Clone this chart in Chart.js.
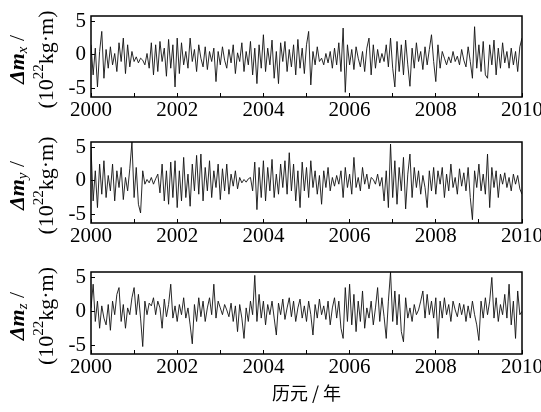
<!DOCTYPE html>
<html>
<head>
<meta charset="utf-8">
<script src="https://cdn.jsdelivr.net/npm/chart.js@4.4.0/dist/chart.umd.min.js"></script>
<style>
body { margin: 0; background: #fff; }
#wrap { position: relative; width: 541px; height: 412px; }
canvas { position: absolute; left: 0; }
</style>
</head>
<body>
<div id="wrap">
  <canvas id="c1" width="541" height="125" style="top:0px"></canvas>
  <canvas id="c2" width="541" height="125" style="top:126px"></canvas>
  <canvas id="c3" width="541" height="156" style="top:256px"></canvas>
</div>
<script>
// sampling: 20 values per year, 2000.00 .. 2010.00
const START_YEAR = 2000;
const SAMPLES_PER_YEAR = 20;
const yearTicks = [2000, 2001, 2002, 2003, 2004, 2005, 2006, 2007, 2008, 2009, 2010];
const yTicks = [-5, 0, 5];
const xTitle = '历元 / 年';

// delta m_x (10^22 kg.m)
const dmx = [
  1.5, -3.0, 1.0, -4.8, 0.5, 3.5, -3.5, 0.8, -2.0, 1.2, -1.5, 0.2, -2.5, 1.8, -1.0, 2.5, -2.8, 1.5, -1.8, 0.5,
  -1.0, -0.3, -1.2, -0.5, -0.8, -1.5, 0.2, -2.0, 1.8, -3.0, 1.5, -2.5, 2.0, -1.0, 1.0, -3.2, 2.3, -2.0, 1.5, -4.8,
  2.5, -2.8, 1.8, -1.5, 0.5, -2.0, 2.5, -1.0, 0.8, -2.5, 1.5, -0.5, -1.8, 1.2, -2.2, 0.5, -1.0, 1.0, -4.0, 0.5,
  -1.5, 1.2, -0.8, -2.0, 0.8, -1.2, 1.5, -2.8, 0.3, -1.0, 1.8, -2.5, 0.5, -1.5, 2.0, -3.0, 1.0, -4.3, 1.5, -2.0,
  3.0, -2.5, 1.0, -1.5, 2.2, -3.5, 0.5, -4.3, 1.8, -1.0, 2.0, -2.5, 0.8, -1.8, 1.5, -3.0, 2.3, -2.0, 1.0, -2.8,
  1.5, 3.5, -4.5, 0.5, -1.5, 1.2, -1.0, -0.5, -1.5, 0.2, -1.2, 0.5, -2.0, 1.0, -1.5, 1.8, -2.5, 4.0, -5.6, 1.5,
  -1.5, 0.8, -2.2, 1.2, -0.5, -1.8, 0.5, -2.5, 1.0, 2.5, -3.0, 1.5, -2.0, 0.8, -1.2, 0.2, -1.0, 1.5, -1.8, 2.5,
  -2.0, -4.8, 2.0, -2.5, 1.5, -3.0, 2.2, -1.5, -4.7, 1.0, -2.0, 1.8, -1.0, 0.5, -2.2, 1.2, -1.5, 0.8, 3.0, -1.0,
  -4.0, 1.5, -2.0, 0.5, -0.5, -1.5, -0.3, -1.2, 0.5, -1.0, -0.2, -1.5, 0.8, -0.8, -1.8, 1.2, -1.0, -3.5, 4.2, -2.0,
  1.5, -2.5, 2.0, -3.0, -3.5, 1.5, -1.5, 2.2, -3.0, 1.0, -2.0, 1.8, -1.2, 0.5, -2.0, 1.0, -1.5, 0.5, -2.5, 1.2,
  2.5
];

// delta m_y
const dmy = [
  5.0, -3.0, 1.5, -4.0, 2.5, -2.0, 3.0, -2.5, 0.8, -1.5, 2.5, -3.0, 1.5, -1.0, 2.0, -2.8, 0.5, -1.5, 1.8, 5.8,
  -2.5, 2.0, -3.5, -4.8, 1.5, -0.5, 0.2, -0.3, 0.5, -0.5, 0.3, 1.0, -1.8, 2.5, -3.0, 1.5, -3.5, 2.8, -2.5, 3.0,
  -4.0, 1.5, -3.0, 3.5, -2.5, 1.0, -3.8, 2.5, -1.5, 3.8, -2.0, 4.0, -3.0, 2.0, -1.5, 3.0, -2.5, 1.5, -1.0, 2.5,
  -2.8, 1.8, -1.5, 2.5, -2.0, 1.0, -0.8, 1.5, -1.2, 0.5, -0.3, 0.2, -0.2, 0.3, 0.5, -1.5, 2.8, -4.3, 2.0, -2.5,
  3.0, -3.0, 2.0, -1.5, 3.2, -2.5, 1.0, -2.0, 2.5, -1.0, 3.0, -2.0, 4.2, -1.5, 2.5, -3.0, 1.5, -4.0, 2.8, -1.5,
  2.0, -2.5, 3.0, -1.0, 1.5, -2.0, 0.8, -3.5, 1.5, -1.0, 2.0, -1.5, 0.5, -0.8, 0.8, -0.5, 1.5, -2.5, 2.0, -1.0,
  1.0, -2.0, 3.5, -1.0, 0.5, -1.5, 2.0, -0.5, 1.0, -1.2, 0.5, 0.2, -0.5, 1.0, -0.8, 0.5, -3.0, 1.5, -4.0, 5.5,
  -2.5, 3.0, -3.5, 2.0, -1.5, 3.5, -4.2, 1.0, 4.0, -2.5, 2.0, -1.0, 1.5, -2.0, 0.8, -1.0, -4.0, 1.5, -1.5, 2.0,
  -2.0, 1.5, -0.5, 2.0, -2.5, 1.0, -1.5, 2.5, -1.0, 0.5, -2.0, 1.8, -0.8, 1.2, -1.5, 2.0, -2.5, -5.8, 1.5, -1.0,
  2.5, -1.5, 1.0, -2.0, 4.0, -4.0, 2.0, -1.0, 1.5, -2.5, 1.0, -0.5, 1.2, -1.0, 0.5, -1.5, 1.0, -0.5, 0.8, -1.2,
  -2.0
];

// delta m_z
const dmz = [
  0.5, 4.0, -1.5, 1.5, -2.5, 0.8, -1.0, -2.0, 1.0, -2.8, 1.5, -0.5, 2.5, 3.5, -1.5, 1.0, -2.5, 0.5, -0.5, 2.0,
  3.5, -0.5, 2.5, -1.0, -5.2, 1.5, -0.5, 1.2, 0.8, 2.0, -0.5, 1.5, 0.5, -2.5, 1.8, -0.8, 1.0, 4.0, -1.0, 0.8,
  -1.5, 1.0, -0.5, 2.0, -1.0, 0.5, -2.0, -4.8, 1.0, -1.5, 2.0, -0.8, 1.5, -1.5, 0.5, 2.0, -0.5, 4.0, -1.0, 1.5,
  0.5, -0.5, 1.0, 0.2, -0.8, 1.2, -1.5, 0.8, -3.0, 1.0, -1.0, -4.0, 0.5, -1.5, 1.5, -0.5, 5.3, -1.5, 2.5, -1.0,
  1.5, -2.0, 1.0, -0.5, 1.5, -1.0, -3.5, 1.2, -0.5, 1.8, -1.2, 0.5, 2.0, -0.8, 1.5, -1.5, 0.5, 1.8, -1.0, 0.8,
  -1.5, 1.5, -0.5, -3.5, 1.0, -1.0, 1.8, -0.5, 0.8, -1.2, 1.5, -2.0, 0.5, 2.0, -1.0, 1.5, -2.5, -4.0, 3.5, -1.5,
  4.0, -2.0, 2.5, -3.0, 1.5, -1.5, 3.0, -2.5, 0.5, -1.0, 1.5, -2.0, 0.5, 3.5, -1.5, 2.0, -0.8, -4.0, 1.5, 5.8,
  -1.5, 3.0, -2.0, 2.5, -3.0, -4.5, 2.0, -1.0, 0.5, -1.5, 1.0, -0.5, 0.2, 1.5, 3.0, -1.0, 2.5, -0.5, 1.5, -1.0,
  2.0, -4.0, 1.5, -1.0, 2.0, -0.5, 1.0, -1.5, 1.5, 0.2, -0.8, 1.2, -0.5, 1.0, -1.5, 0.8, -1.0, 1.5, -0.5, -2.0,
  -4.3, 1.5, -1.0, 2.0, -0.5, 1.5, 5.0, -1.0, 2.0, -1.5, 1.0, -0.5, 2.5, -1.0, 4.0, -2.0, 1.5, -4.0, 3.0, -0.5,
  0.0
];

const SERIF = '"Liberation Serif", "DejaVu Serif", serif';

// frame round the plot area
const framePlugin = {
  id: 'frame',
  afterDatasetsDraw(chart) {
    const a = chart.chartArea;
    const ctx = chart.ctx;
    ctx.save();
    ctx.strokeStyle = '#000';
    ctx.lineWidth = 1.5;
    ctx.strokeRect(a.left, a.top, a.right - a.left, a.bottom - a.top);
    ctx.restore();
  }
};

function drawParts(ctx, parts) {
  let w = 0;
  parts.forEach(p => { ctx.font = p.font; p.w = ctx.measureText(p.t).width; w += p.w; });
  let x = -w / 2;
  parts.forEach(p => {
    ctx.font = p.font;
    ctx.fillText(p.t, x, p.dy || 0);
    x += p.w;
  });
}

// two line rotated y title with sub/superscripts
const yTitlePlugin = {
  id: 'yTitle',
  afterDraw(chart, args, opts) {
    const a = chart.chartArea;
    const ctx = chart.ctx;
    const cy = (a.top + a.bottom) / 2 + 3;
    ctx.save();
    ctx.fillStyle = '#000';
    ctx.textBaseline = 'middle';
    ctx.textAlign = 'left';

    ctx.save();
    ctx.translate(18, cy);
    ctx.rotate(-Math.PI / 2);
    drawParts(ctx, [
      { t: 'Δ', font: 'italic bold 22px ' + SERIF },
      { t: 'm', font: 'italic bold 22px ' + SERIF },
      { t: opts.sub, font: 'italic 15px ' + SERIF, dy: 5 },
      { t: ' /', font: '22px ' + SERIF }
    ]);
    ctx.restore();

    ctx.save();
    ctx.translate(47, cy);
    ctx.rotate(-Math.PI / 2);
    drawParts(ctx, [
      { t: '(10', font: '22px ' + SERIF },
      { t: '22', font: '15px ' + SERIF, dy: -8 },
      { t: 'kg·m)', font: '22px ' + SERIF }
    ]);
    ctx.restore();

    ctx.restore();
  }
};

function noPadding(s) {
  s.paddingTop = 0;
  s.paddingBottom = 0;
  s.paddingLeft = 0;
  s.paddingRight = 0;
}

function makePanel(canvasId, values, sub, xHeight, showTitle) {
  const points = values.map((v, i) => ({ x: START_YEAR + i / SAMPLES_PER_YEAR, y: v }));
  return new Chart(document.getElementById(canvasId), {
    type: 'line',
    data: {
      datasets: [{
        data: points,
        borderColor: '#111',
        borderWidth: 0.9,
        pointRadius: 0,
        tension: 0,
        fill: false
      }]
    },
    options: {
      responsive: false,
      animation: false,
      devicePixelRatio: 1,
      layout: { padding: { top: 16, right: 19, left: 0, bottom: 0 } },
      plugins: {
        legend: { display: false },
        tooltip: { enabled: false },
        yTitle: { sub: sub }
      },
      scales: {
        x: {
          type: 'linear',
          min: 2000,
          max: 2010,
          afterBuildTicks: s => { s.ticks = yearTicks.map(v => ({ value: v })); },
          afterFit: s => { s.height = xHeight; noPadding(s); },
          grid: { drawOnChartArea: false, drawTicks: true, tickLength: -4, color: '#000', lineWidth: 1 },
          border: { display: false },
          ticks: {
            autoSkip: false,
            maxRotation: 0,
            padding: 5,
            color: '#000',
            font: { family: SERIF, size: 21 },
            callback: v => (v % 2 === 0 ? String(v) : '')
          },
          title: {
            display: showTitle,
            text: xTitle,
            color: '#000',
            font: { family: '"Noto Sans CJK SC", sans-serif', size: 18 },
            padding: { top: 0, bottom: 8 }
          }
        },
        y: {
          min: -6.3,
          max: 5.8,
          afterBuildTicks: s => { s.ticks = yTicks.map(v => ({ value: v })); },
          afterFit: s => { s.width = 91; noPadding(s); },
          grid: { drawOnChartArea: false, drawTicks: true, tickLength: -4, color: '#000', lineWidth: 1 },
          border: { display: false },
          ticks: {
            padding: 9,
            color: '#000',
            font: { family: SERIF, size: 21 },
            callback: v => (v < 0 ? '-' + Math.abs(v) : String(v))
          }
        }
      }
    },
    plugins: [framePlugin, yTitlePlugin]
  });
}

makePanel('c1', dmx, 'x', 28, false);
makePanel('c2', dmy, 'y', 28, false);
makePanel('c3', dmz, 'z', 58, true);
</script>
</body>
</html>
